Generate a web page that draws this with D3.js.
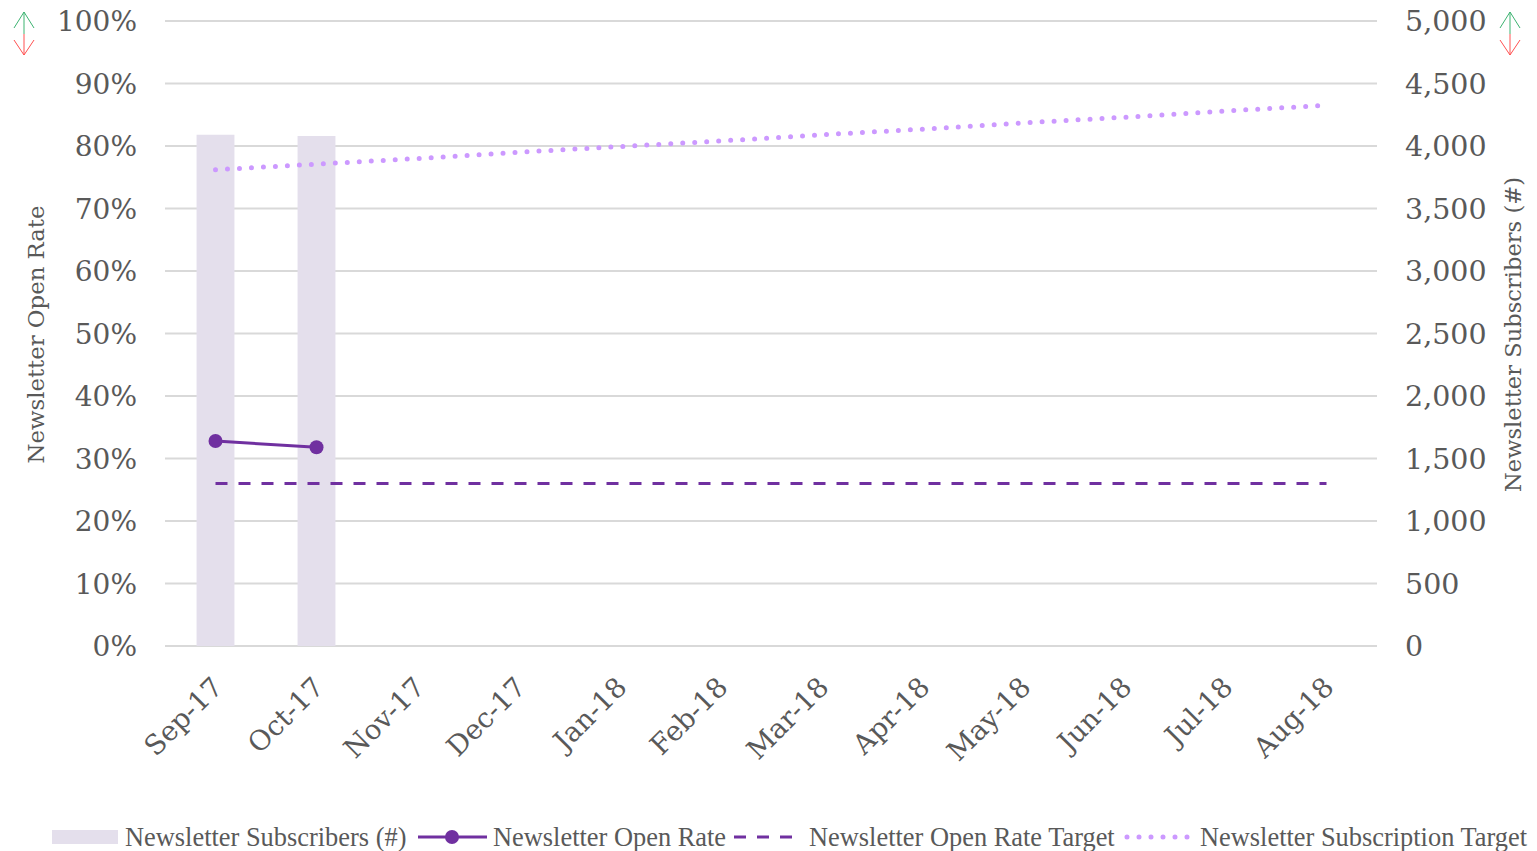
<!DOCTYPE html>
<html><head><meta charset="utf-8">
<script src="https://cdn.jsdelivr.net/npm/d3@7"></script>
<style>body{margin:0;background:#fff}svg{display:block}</style>
</head><body>
<svg id="c" width="1537" height="851"></svg>
<script>
const months = ["Sep-17","Oct-17","Nov-17","Dec-17","Jan-18","Feb-18","Mar-18","Apr-18","May-18","Jun-18","Jul-18","Aug-18"];
const subscribers = [4090, 4080, null, null, null, null, null, null, null, null, null, null];
const openRate = [0.328, 0.318, null, null, null, null, null, null, null, null, null, null];
const openRateTarget = [0.26,0.26,0.26,0.26,0.26,0.26,0.26,0.26,0.26,0.26,0.26,0.26];
const subscriptionTarget = [3810, 3855, 3900, 3950, 3995, 4040, 4090, 4135, 4185, 4230, 4280, 4325];
const leftTicks = [0,0.1,0.2,0.3,0.4,0.5,0.6,0.7,0.8,0.9,1.0];
const rightTicks = [0,500,1000,1500,2000,2500,3000,3500,4000,4500,5000];
const legendLabels = ["Newsletter Subscribers (#)","Newsletter Open Rate","Newsletter Open Rate Target","Newsletter Subscription Target"];

const svg = d3.select("#c");
const L = 165, R = 1377, T = 21, B = 646;
const tickFont = "'DejaVu Serif', serif";
const txtCol = "#595959";
const x = d3.scaleBand().domain(months).range([L, R]).padding(0);
const yL = d3.scaleLinear().domain([0,1]).range([B, T]);
const yR = d3.scaleLinear().domain([0,5000]).range([B, T]);

// gridlines
svg.append("g").selectAll("line").data(leftTicks).join("line")
  .attr("x1", L).attr("x2", R).attr("y1", d=>yL(d)).attr("y2", d=>yL(d))
  .attr("stroke", "#d9d9d9").attr("stroke-width", 2);

// bars
const bw = x.bandwidth()*0.375;
svg.append("g").selectAll("rect").data(months.map((m,i)=>({m, v:subscribers[i]})).filter(d=>d.v!=null))
  .join("rect")
  .attr("x", d=>x(d.m)+x.bandwidth()/2-bw/2).attr("width", bw)
  .attr("y", d=>yR(d.v)).attr("height", d=>B-yR(d.v))
  .attr("fill", "#e4dfec");

// left axis
const axL = d3.axisLeft(yL).tickValues(leftTicks).tickFormat(d3.format(".0%")).tickSize(0).tickPadding(28);
const gL = svg.append("g").attr("transform", `translate(${L},0)`).call(axL);
gL.select(".domain").remove();
gL.selectAll("text").attr("font-family", tickFont).attr("font-size", 28).attr("fill", txtCol).attr("dy","0.35em");

// right axis
const axR = d3.axisRight(yR).tickValues(rightTicks).tickFormat(d3.format(",")).tickSize(0).tickPadding(28);
const gR = svg.append("g").attr("transform", `translate(${R},0)`).call(axR);
gR.select(".domain").remove();
gR.selectAll("text").attr("font-family", tickFont).attr("font-size", 28.5).attr("fill", txtCol).attr("dy","0.35em");

// bottom axis
const axB = d3.axisBottom(x).tickSize(0).tickPadding(0);
const gB = svg.append("g").attr("transform", `translate(0,${B})`).call(axB);
gB.select(".domain").remove();
gB.selectAll("text").attr("font-family", tickFont).attr("font-size", 27.5).attr("fill", txtCol)
  .attr("text-anchor","end").attr("dy","0.35em")
  .attr("transform","translate(2,36) rotate(-45)");

// axis titles
svg.append("text").attr("transform", `translate(44,${(T+B)/2+1}) rotate(-90)`)
  .attr("text-anchor","middle").attr("font-family", tickFont).attr("font-size", 22.8).attr("fill", txtCol)
  .text("Newsletter Open Rate");
svg.append("text").attr("transform", `translate(1521,${(T+B)/2+1}) rotate(-90)`)
  .attr("text-anchor","middle").attr("font-family", tickFont).attr("font-size", 22.6).attr("fill", txtCol)
  .text("Newsletter Subscribers (#)");

const cx = d=>x(d)+x.bandwidth()/2;

// subscription target dotted
svg.append("path").datum(months.map((m,i)=>[cx(m), yR(subscriptionTarget[i])]))
  .attr("d", d3.line()).attr("fill","none").attr("stroke","#cc99ff").attr("stroke-width",5)
  .attr("stroke-linecap","round").attr("stroke-dasharray","0 12");

// open rate target dashed
svg.append("path").datum(months.map((m,i)=>[cx(m), yL(openRateTarget[i])]))
  .attr("d", d3.line()).attr("fill","none").attr("stroke","#7030a0").attr("stroke-width",3)
  .attr("stroke-dasharray","12 11");

// open rate line
const orData = months.map((m,i)=>({m, v:openRate[i]})).filter(d=>d.v!=null);
svg.append("path").datum(orData)
  .attr("d", d3.line().x(d=>cx(d.m)).y(d=>yL(d.v))).attr("fill","none").attr("stroke","#7030a0").attr("stroke-width",3);
svg.append("g").selectAll("circle").data(orData).join("circle")
  .attr("cx", d=>cx(d.m)).attr("cy", d=>yL(d.v)).attr("r",7).attr("fill","#7030a0");

// arrows
function arrow(ax){
  const g = svg.append("g").attr("fill","none").attr("stroke-width",1);
  g.append("path").attr("d",`M${ax},34 L${ax},12 M${ax-10},28 L${ax},12 L${ax+10},28`).attr("stroke","#3cb371");
  g.append("path").attr("d",`M${ax},34 L${ax},55 M${ax-10},40 L${ax},55 L${ax+10},40`).attr("stroke","#ff5050");
}
arrow(24); arrow(1510);

// legend
const lf = "'Liberation Serif', serif";
const ly = 837;
const lg = svg.append("g").attr("font-family", lf).attr("font-size", 26.4).attr("fill", txtCol);
lg.append("rect").attr("x",52).attr("y",ly-7).attr("width",66).attr("height",14).attr("fill","#e4dfec");
lg.append("text").attr("x",125).attr("y",ly).attr("dy","0.33em").text(legendLabels[0]);
lg.append("line").attr("x1",418).attr("x2",487).attr("y1",ly).attr("y2",ly).attr("stroke","#7030a0").attr("stroke-width",3);
lg.append("circle").attr("cx",452).attr("cy",ly).attr("r",7).attr("fill","#7030a0");
lg.append("text").attr("x",493).attr("y",ly).attr("dy","0.33em").text(legendLabels[1]);
lg.append("line").attr("x1",734).attr("x2",800).attr("y1",ly).attr("y2",ly).attr("stroke","#7030a0").attr("stroke-width",3).attr("stroke-dasharray","12 11");
lg.append("text").attr("x",809).attr("y",ly).attr("dy","0.33em").text(legendLabels[2]);
lg.append("line").attr("x1",1127).attr("x2",1190).attr("y1",ly).attr("y2",ly).attr("stroke","#cc99ff").attr("stroke-width",5).attr("stroke-linecap","round").attr("stroke-dasharray","0 12");
lg.append("text").attr("x",1200).attr("y",ly).attr("dy","0.33em").text(legendLabels[3]);
</script>
</body></html>
